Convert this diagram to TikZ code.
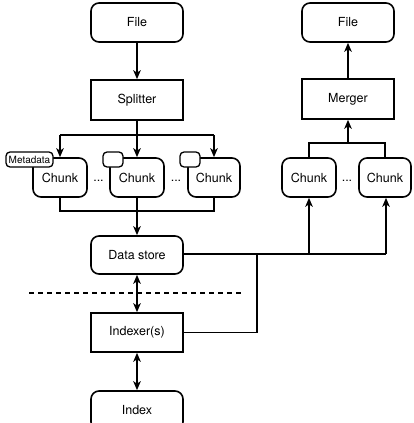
\documentclass[tikz,border=0pt]{standalone}
\usepackage{fontspec}
\setmainfont{TeX Gyre Heros}
\usetikzlibrary{arrows.meta,calc}
\begin{document}
\begin{tikzpicture}[x=1pt,y=1pt,
 box/.style={draw,line width=1.6pt,minimum width=92pt,minimum height=39pt,inner sep=0pt,font=\fontsize{12.5}{14}\selectfont,fill=white},
 rbox/.style={box,rounded corners=8pt},
 cbox/.style={rbox,minimum width=54pt},
 tag/.style={draw,line width=1.3pt,rounded corners=4pt,minimum height=15pt,minimum width=20pt,inner sep=0pt,fill=white,font=\fontsize{10}{12}\selectfont},
 conn/.style={line width=1.6pt},
 arr/.style={conn,-{Stealth[length=9pt,width=7.5pt,inset=2.5pt]}},
 darr/.style={conn,{Stealth[length=9pt,width=7.5pt,inset=2.5pt]}-{Stealth[length=9pt,width=7.5pt,inset=2.5pt]}},
 dotstyle/.style={inner sep=0pt,font=\fontsize{12.5}{14}\selectfont}]
\useasboundingbox (0,0) rectangle (413,-423);
\clip (0,0) rectangle (413,-423);
% left column
\node[rbox] (fileL) at (137,-22.5) {File};
\node[box,minimum height=40pt] (split) at (137,-100) {Splitter};
\node[cbox] (c1) at (60,-177.5) {Chunk};
\node[cbox] (c2) at (137,-177.5) {Chunk};
\node[cbox,minimum width=52pt] (c3) at (214,-177.5) {Chunk};
\node[tag,minimum width=47pt] (meta) at (29.5,-159.5) {Metadata};
\node[tag] (t2) at (113,-159.5) {};
\node[tag] (t3) at (190,-159.5) {};
\node[dotstyle] (d1) at (98.5,-181) {...};
\node[dotstyle] (d2) at (176,-181) {...};
\node[rbox,minimum height=38pt] (ds) at (137,-255) {Data store};
\node[box] (idx) at (137,-332.5) {Indexer(s)};
\node[rbox] (index) at (137,-410.5) {Index};
% right column
\node[rbox] (fileR) at (348,-22.5) {File};
\node[box,minimum height=40pt] (merge) at (348,-99) {Merger};
\node[cbox] (r1) at (309,-177.5) {Chunk};
\node[cbox,minimum width=52pt] (r2) at (385,-177.5) {Chunk};
\node[dotstyle] (d3) at (347,-181) {...};
% coordinates
\coordinate (sj) at (137,-135);
\coordinate (bj) at (137,-211);
\coordinate (mj) at (348,-143);
\coordinate (dsj) at (386,-254);
\coordinate (ij) at (257,-254);
% connectors
\draw[arr] (fileL) -- (split);
\draw[conn] (split.south) -- (sj);
\draw[conn] (sj -| c1) -- (sj -| c3);
\draw[arr] (sj -| c1) -- (c1.north);
\draw[arr] (sj) -- (c2.north);
\draw[arr] (sj -| c3) -- (c3.north);
\draw[conn] (c1.south) -- (bj -| c1) -- (bj -| c3) -- (c3.south);
\draw[conn] (c2.south) -- (bj);
\draw[arr] (bj) -- (ds.north);
\draw[darr] (ds.south) -- (idx.north);
\draw[darr] (idx.south) -- (index.north);
\draw[conn,dash pattern=on 5pt off 4pt] (29,-293) -- (244,-293);
\draw[arr] (merge) -- (fileR);
\draw[arr] (mj) -- (merge.south);
\draw[conn] (r1.north) -- (mj -| r1) -- (mj -| r2) -- (r2.north);
\draw[conn] (ds.east |- dsj) -- (dsj);
\draw[arr] (dsj -| r1) -- (r1.south);
\draw[arr] (dsj) -- (dsj |- r2.south);
\draw[conn] (ij) -- (ij |- idx.east) -- (idx.east);
\end{tikzpicture}
\end{document}
